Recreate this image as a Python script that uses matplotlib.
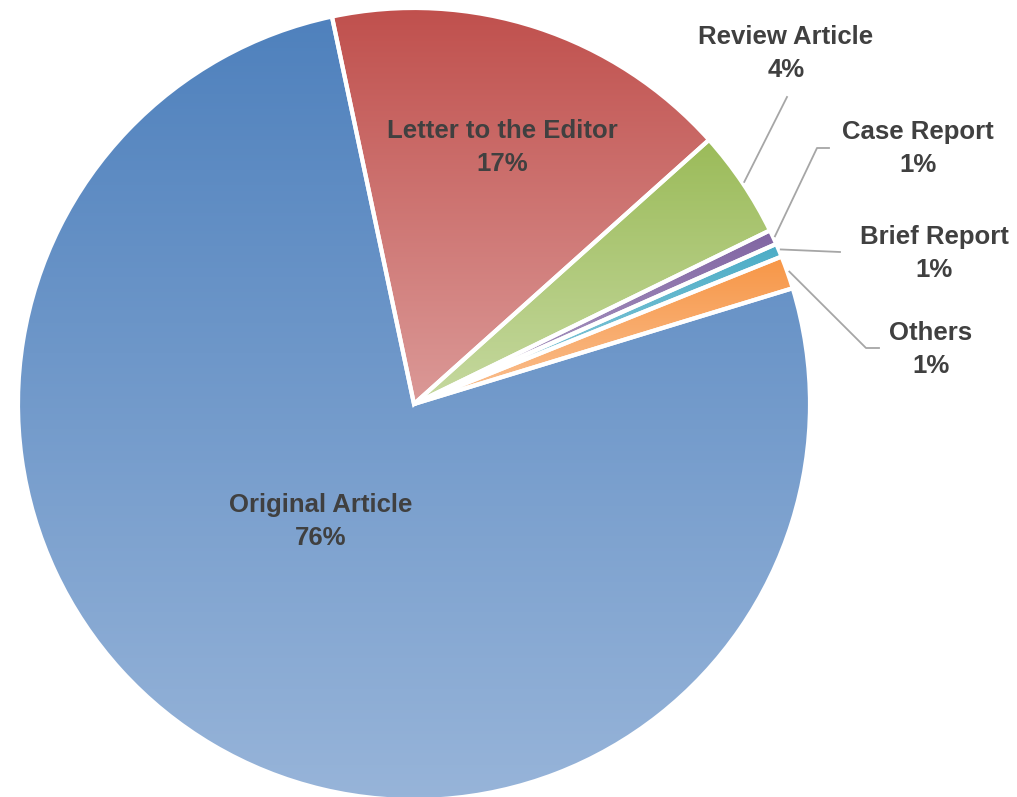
import numpy as np
import matplotlib.pyplot as plt
from matplotlib.colors import LinearSegmentedColormap

# data (share of publications, %)
categories = ['Original Article', 'Letter to the Editor', 'Review Article',
              'Case Report', 'Brief Report', 'Others']
shares = [76.4, 16.7, 4.4, 0.6, 0.55, 1.35]

# gradient colours per slice: (top, bottom)
top_colors = ['#4F81BD', '#C0504D', '#9BBB59', '#8064A2', '#4BACC6', '#F79646']
bottom_colors = ['#97B4D9', '#DB9997', '#C6D9A0', '#B3A2C8', '#93CEDD', '#FAC193']

# label placement (pixel coords of figure, y from top)
label_pos = [(321, 505), (502, 131), (786, 37), (918, 132), (934, 237), (931, 333)]
# leader line elbows (None = label inside the slice)
leader_pts = [None, None, [(787, 97)], [(817, 148), (829, 148)],
              [(840, 252)], [(866, 348), (879, 348)]]

W, H = 1017, 797
fig = plt.figure(figsize=(W / 100, H / 100), dpi=100)
ax = fig.add_axes([0, 0, 1, 1])

cx, cy, r = 414, H - 404, 396

wedges, _ = ax.pie(shares, startangle=17, counterclock=False, center=(cx, cy),
                   radius=r, frame=True,
                   wedgeprops=dict(facecolor='none', edgecolor='white', linewidth=3))
ax.set_xlim(0, W)
ax.set_ylim(0, H)
ax.set_aspect('equal')
ax.axis('off')

grad = np.linspace(0, 1, 256).reshape(-1, 1)
for w, c0, c1 in zip(wedges, top_colors, bottom_colors):
    w.set_zorder(3)
    bb = w.get_path().get_extents()
    cmap = LinearSegmentedColormap.from_list('g', [c0, c1])
    im = ax.imshow(grad, cmap=cmap, aspect='auto', interpolation='bilinear',
                   extent=[bb.x0, bb.x1, bb.y0, bb.y1], origin='upper', zorder=2)
    im.set_clip_path(w)

txt_color = '#404040'
for i, (name, v) in enumerate(zip(categories, shares)):
    x, y = label_pos[i]
    ax.text(x, H - y, name, ha='center', va='center', fontsize=18.5,
            fontweight='bold', color=txt_color, family='Liberation Sans', zorder=5)
    ax.text(x, H - y - 33, f'{np.floor(v + 0.5):.0f}%', ha='center', va='center',
            fontsize=18.5, fontweight='bold', color=txt_color,
            family='Liberation Sans', zorder=5)
    if leader_pts[i] is not None:
        w = wedges[i]
        mid = np.deg2rad((w.theta1 + w.theta2) / 2)
        sx = cx + (r + 2) * np.cos(mid)
        sy = cy + (r + 2) * np.sin(mid)
        xs = [sx] + [p[0] for p in leader_pts[i]]
        ys = [sy] + [H - p[1] for p in leader_pts[i]]
        ax.plot(xs, ys, color='#A6A6A6', linewidth=1.3, zorder=4)

fig.savefig('out.png', dpi=100)
